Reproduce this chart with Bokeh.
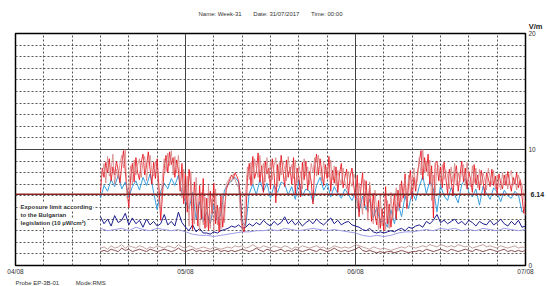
import numpy as np
from bokeh.plotting import figure
from bokeh.models import Range1d, FixedTicker, Span, Label, Title, LinearAxis
from bokeh.embed import file_html
from bokeh.resources import INLINE

# time axis: hours since 04/08 00:00
day_ticks = [0, 24, 48, 72]
day_labels = ["04/08", "05/08", "06/08", "07/08"]
t_start = 12.0
t_end = 72.0

red = [
    6.3, 8.4, 7.6, 8.9, 8.0, 9.2, 7.3, 8.5, 7.8, 9.0, 8.2, 7.1,
    8.7, 9.9, 8.1, 6.4, 5.0, 7.5, 8.8, 7.2, 9.3, 8.0, 7.4, 8.9,
    9.6, 7.8, 8.6, 9.8, 8.3, 7.0, 8.9, 7.5, 9.2, 6.8, 3.9, 6.1,
    8.4, 9.5, 8.0, 9.8, 8.7, 9.3, 7.6, 9.1, 8.2, 6.4, 8.8, 5.3,
    7.9, 4.6, 8.3, 6.8, 3.1, 7.2, 5.5, 3.4, 6.9, 4.0, 7.5, 3.2,
    5.8, 3.0, 6.4, 4.5, 7.1, 3.6, 5.2, 2.9, 6.0, 3.3, 4.8, 6.5,
    7.0, 7.4, 7.8, 7.5, 8.0, 7.7, 7.3, 6.1, 3.4, 2.9, 3.8, 7.6,
    8.8, 6.9, 9.4, 7.5, 8.1, 9.7, 7.2, 8.6, 6.3, 9.0, 7.9, 8.4,
    6.6, 9.2, 8.0, 5.4, 8.7, 7.3, 9.5, 8.2, 6.8, 9.1, 7.6, 8.5,
    7.0, 9.3, 6.2, 8.4, 7.7, 5.9, 8.9, 7.4, 9.0, 6.5, 8.1, 7.2,
    5.3, 8.6, 9.6, 7.8, 9.2, 8.0, 6.9, 8.7, 7.5, 9.4, 6.4, 8.2,
    7.1, 8.5, 6.3, 7.9, 8.8, 6.7, 7.6, 8.3, 6.1, 7.7, 8.4, 6.9,
    5.7, 7.8, 4.2, 6.6, 8.0, 5.1, 7.3, 4.6, 6.9, 3.8, 6.2, 4.4,
    3.5, 5.6, 3.2, 4.9, 3.0, 6.8, 3.6, 5.3, 3.3, 4.7, 6.1, 4.0,
    6.5, 5.0, 7.3, 5.8, 7.9, 4.9, 7.1, 8.2, 5.7, 7.6, 6.4, 8.0,
    8.9, 9.9, 7.4, 9.3, 8.1, 9.6, 7.0, 8.6, 4.1, 8.8, 9.0, 7.3,
    8.5, 6.7, 8.9, 7.6, 6.2, 8.3, 7.5, 6.0, 7.9, 8.6, 6.4, 7.8,
    9.0, 7.2, 8.4, 6.6, 8.1, 7.4, 6.3, 8.7, 7.0, 7.8, 6.5, 8.2,
    7.3, 6.1, 8.0, 7.5, 6.8, 8.3, 6.9, 7.7, 6.2, 7.9, 7.1, 6.6,
    7.8, 6.9, 8.1, 7.2, 6.4, 7.6, 7.0, 8.0, 6.7, 7.4, 6.0, 4.5,
    5.6,
]

pink = [
    7.2, 7.9, 8.8, 7.1, 9.4, 7.7, 8.2, 9.6, 7.0, 8.3, 7.5, 8.8,
    9.5, 8.4, 10.0, 5.8, 6.9, 8.6, 7.0, 9.1, 7.8, 8.7, 9.2, 7.6,
    8.9, 9.4, 7.3, 8.8, 9.5, 8.1, 7.7, 9.0, 7.9, 5.6, 4.8, 7.7,
    9.2, 8.1, 9.7, 8.6, 9.9, 7.8, 9.4, 8.0, 9.5, 7.2, 5.8, 8.3,
    5.6, 7.7, 3.4, 8.1, 5.2, 3.6, 7.6, 4.2, 3.0, 6.3, 3.5, 5.9,
    3.3, 6.9, 3.2, 5.7, 3.0, 6.6, 3.5, 5.0, 3.1, 6.2, 3.7, 7.0,
    7.3, 7.6, 7.2, 7.9, 7.4, 7.0, 6.7, 4.5, 3.0, 3.5, 6.4, 8.5,
    7.4, 8.9, 7.0, 9.2, 8.4, 7.6, 9.5, 7.9, 8.8, 7.2, 9.3, 7.5,
    9.0, 7.4, 8.6, 9.3, 6.8, 8.9, 7.8, 9.0, 8.4, 7.3, 9.4, 7.9,
    8.7, 7.5, 9.1, 7.1, 8.6, 7.9, 6.6, 9.2, 7.7, 8.5, 7.0, 8.8,
    8.0, 9.3, 7.7, 9.5, 8.2, 7.3, 9.0, 7.9, 8.5, 7.6, 9.1, 7.4,
    8.6, 6.9, 8.2, 7.5, 7.0, 8.4, 7.2, 6.6, 8.1, 7.3, 6.8, 7.9,
    7.4, 4.9, 7.1, 5.8, 4.4, 7.4, 6.0, 3.9, 7.2, 5.0, 3.6, 6.5,
    4.6, 3.1, 6.0, 3.4, 4.2, 3.1, 5.6, 3.2, 6.3, 3.9, 5.2, 6.7,
    4.7, 7.0, 5.5, 6.4, 7.5, 5.3, 7.8, 6.2, 7.3, 8.4, 6.8, 7.4,
    9.3, 7.8, 10.0, 8.0, 9.0, 7.7, 9.1, 5.6, 7.8, 6.3, 8.4, 8.6,
    7.1, 8.7, 7.4, 8.2, 7.8, 6.6, 8.5, 7.2, 8.8, 6.9, 8.0, 7.2,
    8.2, 8.7, 6.9, 8.9, 7.3, 6.8, 8.6, 7.1, 8.4, 6.7, 8.3, 7.0,
    8.0, 7.4, 6.5, 8.4, 7.6, 7.0, 8.2, 6.6, 7.8, 7.1, 6.5, 8.0,
    7.0, 7.9, 6.6, 7.7, 8.2, 6.9, 7.5, 6.5, 7.8, 7.3, 7.0, 6.0,
    4.3,
]

blue = [
    5.8, 6.9, 6.4, 7.4, 6.8, 7.8, 6.6, 7.2, 5.9, 6.8,
    7.3, 6.5, 7.6, 6.9, 7.9, 6.3, 4.8, 6.4, 7.1, 6.6,
    7.5, 6.9, 7.8, 6.2, 5.5, 4.9, 6.3, 4.0, 5.5, 3.8,
    4.6, 3.6, 5.2, 3.9, 4.4, 6.5, 7.0, 7.3, 7.6, 7.2,
    3.8, 3.4, 6.2, 7.0, 6.1, 7.4, 6.4, 7.1, 5.8, 6.9,
    6.3, 7.2, 7.0, 6.1, 6.8, 5.7, 7.3, 6.0, 6.6, 6.4,
    5.5, 6.9, 7.6, 6.5, 7.1, 5.9, 6.8, 6.2, 5.8, 6.6,
    6.1, 5.6, 6.3, 4.6, 6.0, 4.8, 5.7, 4.1, 5.0, 3.7,
    3.9, 3.3, 4.8, 3.6, 5.4, 4.2, 6.0, 4.9, 6.4, 5.6,
    6.8, 7.7, 6.2, 7.3, 6.6, 4.6, 6.9, 6.0, 5.6, 6.7,
    6.1, 5.4, 7.0, 7.5, 6.3, 5.9, 6.6, 5.2, 6.8, 6.2,
    5.7, 6.7, 6.3, 5.5, 6.5, 6.0, 5.8, 6.4, 6.1, 4.6,
    4.9,
]

navy = [
    4.2, 3.6, 4.0, 3.4, 4.3, 3.7, 3.9, 4.5, 3.5, 4.1,
    3.6, 3.9, 3.3, 4.0, 3.5, 3.8, 3.4, 3.6, 4.4, 3.5,
    3.8, 3.4, 4.6, 3.7, 3.3, 3.0, 3.5, 2.9, 3.2, 2.8,
    2.8, 2.7, 2.9, 2.8, 3.0, 3.1, 3.2, 3.4, 3.3, 3.5,
    3.2, 3.3, 3.6, 3.4, 3.7, 3.5, 3.9, 3.6, 3.4, 3.8,
    3.5, 3.7, 4.2, 3.6, 3.9, 3.5, 3.8, 3.4, 3.7, 3.9,
    3.6, 4.0, 3.7, 3.5, 3.8, 4.1, 3.6, 3.9, 3.5, 3.7,
    3.8, 3.5, 3.4, 3.3, 3.1, 3.0, 3.2, 2.9, 2.8, 2.9,
    2.8, 2.9, 3.0, 2.9, 3.1, 3.2, 3.0, 3.3, 3.2, 3.4,
    3.5, 3.3, 3.8, 3.6, 3.9, 4.4, 3.7, 3.9, 3.6, 3.8,
    4.0, 3.6, 3.8, 3.5, 3.9, 3.7, 3.4, 3.8, 3.6, 3.5,
    3.9, 3.5, 3.7, 4.0, 3.6, 3.4, 3.8, 3.5, 3.9, 3.3,
    3.4,
]

lavender = [
    3.2, 3.0, 3.1, 3.2, 3.0, 3.3, 3.1, 3.0, 3.2, 3.1,
    3.0, 3.1, 2.9, 2.7, 2.6, 2.6, 2.5, 2.6, 2.7, 2.8,
    2.9, 2.9, 3.0, 3.0, 3.1, 3.0, 3.2, 3.1, 3.0, 3.1,
    3.2, 3.1, 3.0, 3.1, 3.0, 2.9, 2.8, 2.6, 2.5, 2.6,
    2.5, 2.6, 2.8, 2.9, 2.9, 3.0, 3.1, 3.0, 3.2, 3.1,
    3.2, 3.0, 3.1, 3.0, 3.2, 3.1, 3.0, 3.2, 3.1, 3.0,
    3.1,
]

brown_dark = [
    1.2, 1.3, 1.2, 1.4, 1.3, 1.2, 1.5, 1.3, 1.4, 1.2,
    1.3, 1.4, 1.3, 1.2, 1.4, 1.3, 1.2, 1.3, 1.4, 1.3,
    1.2, 1.3, 1.5, 1.3, 1.2, 1.3, 1.4, 1.2, 1.3, 1.2,
    1.3, 1.2, 1.3, 1.4, 1.2, 1.3, 1.2, 1.3, 1.2, 1.3,
    1.4, 1.3, 1.2, 1.3, 1.5, 1.3, 1.2, 1.4, 1.3, 1.2,
    1.3, 1.4, 1.2, 1.3, 1.2, 1.4, 1.3, 1.2, 1.3, 1.4,
    1.3, 1.2, 1.4, 1.3, 1.2, 1.3, 1.5, 1.3, 1.2, 1.3,
    1.2, 1.3, 1.4, 1.6, 1.3, 1.2, 1.3, 1.2, 1.1, 1.2,
    1.1, 1.2, 1.2, 1.1, 1.2, 1.3, 1.2, 1.1, 1.2, 1.2,
    1.3, 1.2, 1.4, 1.3, 1.2, 1.3, 1.4, 1.3, 1.2, 1.4,
    1.3, 1.2, 1.3, 1.4, 1.3, 1.2, 1.4, 1.3, 1.2, 1.3,
    1.4, 1.3, 1.2, 1.3, 1.4, 1.2, 1.3, 1.2, 1.3, 1.2,
    1.3,
]

brown_light = [
    1.5, 1.6, 1.4, 1.7, 1.5, 1.6, 1.8, 1.5, 1.7, 1.6,
    1.5, 1.7, 1.6, 1.4, 1.6, 1.5, 1.7, 1.6, 1.5, 1.7,
    1.6, 1.5, 1.8, 1.6, 1.5, 1.7, 1.6, 1.4, 1.5, 1.6,
    1.5, 1.4, 1.6, 1.5, 1.4, 1.5, 1.6, 1.5, 1.7, 1.6,
    1.7, 1.5, 1.6, 1.8, 1.6, 1.5, 1.7, 1.6, 1.5, 1.7,
    1.6, 1.5, 1.7, 1.6, 1.4, 1.6, 1.5, 1.7, 1.6, 1.5,
    1.6, 1.7, 1.5, 1.6, 1.4, 1.5, 1.7, 1.6, 1.5, 1.6,
    1.5, 1.6, 1.8, 1.7, 1.6, 1.5, 1.4, 1.6, 1.5, 1.4,
    1.5, 1.4, 1.3, 1.4, 1.5, 1.6, 1.5, 1.7, 1.6, 1.5,
    1.6, 1.7, 1.6, 1.8, 1.7, 1.6, 1.8, 1.7, 1.6, 1.7,
    1.6, 1.8, 1.7, 1.6, 1.7, 1.5, 1.6, 1.7, 1.8, 1.6,
    1.7, 1.6, 1.5, 1.7, 1.6, 1.5, 1.6, 1.7, 1.5, 1.6,
    1.5,
]

limit_value = 6.14
header_parts = ["Name: Week-31", "Date: 31/07/2017", "Time: 00:00"]
footer_parts = ["Probe EP-3B-01", "Mode:RMS"]
limit_lines = ["Exposure limit according", "to the Bulgarian", "legislation (10 µW/cm²)"]

def times(n):
    return np.linspace(t_start, t_end, n)

FONT = "Liberation Sans"
W, H = 547, 286
FL, FR, FT, FB = 15, 528, 33, 265  # frame edges in page pixels
NB = "\u00a0"

p = figure(width=W, height=H, output_backend="svg", toolbar_location=None,
           x_range=Range1d(0, 72), y_range=Range1d(0, 20),
           y_axis_location="right", min_border_left=FL, min_border_right=W - FR,
           min_border_top=FT, min_border_bottom=H - FB)
p.background_fill_color = "white"
p.border_fill_color = "white"
p.outline_line_color = "black"
p.outline_line_width = 1.5

# grids
p.xgrid.ticker = FixedTicker(ticks=[h for h in range(4, 72, 4) if h % 24 != 0])
p.ygrid.ticker = FixedTicker(ticks=[v for v in range(1, 20) if v != 10])
for g in (p.xgrid, p.ygrid):
    g.grid_line_color = "#555555"
    g.grid_line_dash = "2 2"
    g.grid_line_width = 1
for loc in (24, 48):
    p.add_layout(Span(location=loc, dimension="height", line_color="#444444", line_width=1, level="underlay"))
p.add_layout(Span(location=10, dimension="width", line_color="#444444", line_width=1, level="underlay"))

# axes
p.xaxis.ticker = FixedTicker(ticks=day_ticks)
p.xaxis.major_label_overrides = {t: l for t, l in zip(day_ticks, day_labels)}
p.yaxis.ticker = FixedTicker(ticks=[0, 10, 20])

# second right axis carrying the limit value label, pulled back inward
lim_axis = LinearAxis(ticker=FixedTicker(ticks=[limit_value]),
                      major_label_overrides={limit_value: f"{limit_value:.2f}"})
p.add_layout(lim_axis, "right")

for ax in (p.xaxis[0], p.yaxis[0], lim_axis):
    ax.axis_line_color = None
    ax.major_tick_line_color = None
    ax.minor_tick_line_color = None
    ax.major_tick_out = 0
    ax.major_tick_in = 0
    ax.minor_tick_out = 0
    ax.minor_tick_in = 0
    ax.major_label_text_font = FONT
    ax.major_label_text_font_size = "6.5px"
    ax.major_label_text_color = "#333333"
p.xaxis.major_label_standoff = 2
p.yaxis[0].major_label_standoff = 3
lim_axis.major_label_standoff = -8
lim_axis.major_label_text_font_size = "7px"
lim_axis.major_label_text_font_style = "bold"
lim_axis.major_label_text_color = "#222222"

# data
p.line(times(len(brown_light)), brown_light, line_color="#c4a0a0", line_width=1)
p.line(times(len(brown_dark)), brown_dark, line_color="#8a4f4f", line_width=1)
p.line(times(len(lavender)), lavender, line_color="#9c9ce6", line_width=1)
p.line(times(len(navy)), navy, line_color="#1c1c8e", line_width=1)
p.line(times(len(blue)), blue, line_color="#3aa0e0", line_width=1)
p.line(times(len(red)), red, line_color="#e8121c", line_width=1, line_alpha=0.85)
p.line(times(len(pink)), pink, line_color="#d47e7e", line_width=1, line_alpha=0.75)

p.add_layout(Span(location=limit_value, dimension="width", line_color="#8b2222", line_width=1.5))

# header / footer as titles in side panels (outside the frame)
vm = Title(text="V/m", align="right", offset=-17, text_font=FONT, text_font_size="7.5px",
           text_font_style="bold", text_color="#222222", standoff=5)
p.add_layout(vm, "above")
head = Title(text=(NB * 7).join(header_parts), align="center", offset=-8, text_font=FONT,
             text_font_size="6px", text_font_style="normal", text_color="#333333", standoff=1)
p.add_layout(head, "above")
foot = Title(text=(NB * 10).join(footer_parts), align="left", text_font=FONT,
             text_font_size="6px", text_font_style="normal", text_color="#333333", standoff=1)
p.add_layout(foot, "below")

for i, line in enumerate(limit_lines):
    l = Label(x=19, y=206 + 8 * i, x_units="canvas", y_units="canvas", text=line,
              text_font=FONT, text_font_size="6px", text_font_style="bold",
              text_color="#333333", text_baseline="middle",
              background_fill_color="white", padding=1)
    p.add_layout(l)

open("out.html", "w").write(file_html(p, INLINE))
